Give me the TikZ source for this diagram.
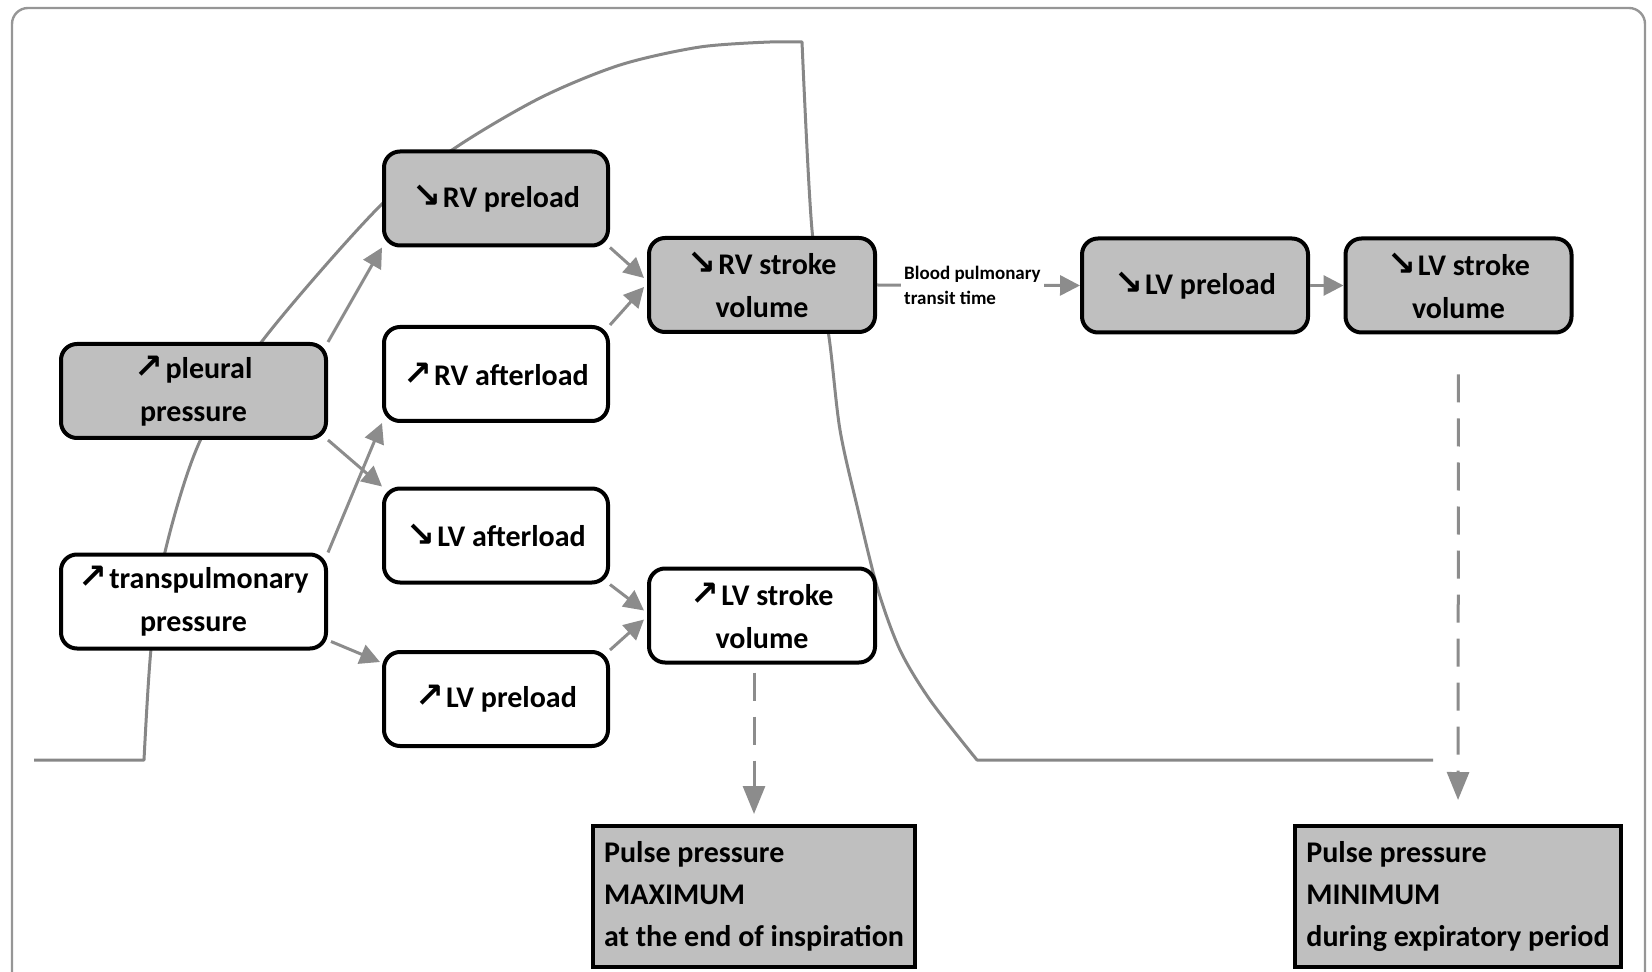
\documentclass[tikz,border=0pt]{standalone}
\usepackage{fontspec}
\setmainfont{Carlito}
\newfontfamily\arrowf{DejaVu Sans}[Scale=1.15]
\usetikzlibrary{arrows.meta,calc}
\definecolor{boxgray}{RGB}{191,191,191}
\definecolor{arrgray}{RGB}{140,140,140}
\definecolor{curvegray}{RGB}{135,135,135}
\definecolor{framegray}{RGB}{150,150,150}
\newcommand\ArUp{{\arrowf ↗}\kern1pt}
\newcommand\ArDn{{\arrowf ↘}\kern1pt}
\begin{document}
\begin{tikzpicture}[x=0.5pt,y=-0.5pt,
  box/.style={draw=black, line width=2pt, rounded corners=8pt, align=center,
    minimum width=113pt, minimum height=47pt, inner sep=2pt,
    font=\fontsize{15}{21.5}\selectfont\bfseries},
  pbox/.style={draw=black, line width=2pt, fill=boxgray, align=left,
    minimum width=161pt, minimum height=70.5pt, inner sep=2pt,
    font=\fontsize{15}{21}\selectfont\bfseries},
  arr/.style={draw=arrgray, line width=1.5pt, -{Triangle[length=10pt,width=10pt]}},
  darr/.style={draw=arrgray, line width=1.5pt, dash pattern=on 14pt off 8pt,
    -{Triangle[length=14pt,width=11pt]}},
  wave/.style={draw=curvegray, line width=1.5pt, line join=round},
  lbl/.style={fill=white, inner sep=1.5pt, align=left,
    font=\fontsize{9.5}{12.5}\selectfont\bfseries}
]
\useasboundingbox (0,0) rectangle (1652,972);
\clip (0,0) rectangle (1652,972);

% outer frame
\draw[framegray, line width=1.2pt, rounded corners=8pt] (12,8) rectangle (1645,1010);

% respiratory pressure wave (background)
\draw[wave] (34,760) -- (144,760)
  -- plot[smooth] coordinates {(144,760) (151,649) (165,552) (200,441) (263,340)
      (379,207) (455,148) (540,98) (620,65) (700,47) (770,42)}
  -- (802,42)
  -- plot[smooth] coordinates {(802,42) (812,230) (829,337) (840,430) (858,510)
      (878,590) (900,650) (930,700) (977,760)}
  -- (1433,760);

% nodes
\node[box, fill=boxgray, minimum width=132.5pt] (pleural) at (193.5,391) {\ArUp pleural\\pressure};
\node[box, fill=white, minimum width=132.5pt] (transp) at (193.5,601.5) {\ArUp transpulmonary\\pressure};
\node[box, fill=boxgray, minimum width=112pt] (rvpre) at (496,198.5) {\ArDn RV preload};
\node[box, fill=white, minimum width=112pt] (rvaft) at (496,374) {\ArUp RV afterload};
\node[box, fill=white, minimum width=112pt] (lvaft) at (496,535.5) {\ArDn LV afterload};
\node[box, fill=white, minimum width=112pt] (lvpre) at (496,699) {\ArUp LV preload};
\node[box, fill=boxgray] (rvsv) at (762,285) {\ArDn RV stroke\\volume};
\node[box, fill=white] (lvsv) at (762,615.5) {\ArUp LV stroke\\volume};
\node[box, fill=boxgray] (lvp2) at (1195,285.5) {\ArDn LV preload};
\node[box, fill=boxgray] (lvsv2) at (1458.5,285.5) {\ArDn LV stroke\\volume};
\node[pbox] (pmax) at (754,896.5) {Pulse pressure\\MAXIMUM\\at the end of inspiration};
\node[pbox, minimum width=163pt] (pmin) at (1458,896.5) {Pulse pressure\\MINIMUM\\during expiratory period};

% connectors
\draw[arr] (pleural.north east) -- (rvpre.south west);
\draw[arr] (pleural.south east) -- (lvaft.north west);
\draw[arr] (transp.north east) -- (rvaft.south west);
\draw[arr] ($(transp.south east)+(3,-9)$) -- ($(lvpre.north west)+(-2,12)$);
\draw[arr] (rvpre.south east) -- ($(rvsv.west)+(-3,-7)$);
\draw[arr] (rvaft.north east) -- ($(rvsv.west)+(-3,2)$);
\draw[arr] (lvaft.south east) -- ($(lvsv.west)+(-3,-5)$);
\draw[arr] (lvpre.north east) -- ($(lvsv.west)+(-3,4)$);
\draw[arr] (rvsv.east) -- node[lbl, pos=0.47] (transit) {Blood pulmonary\\transit time} (lvp2.west);
\draw[arr] (lvp2.east) -- (lvsv2.west);
\draw[darr, shorten <=20pt, shorten >=12pt] (lvsv2.south) -- (pmin.north);
\draw[darr, shorten <=4pt, shorten >=5pt] (lvsv.south -| pmax.north) -- (pmax.north);
\end{tikzpicture}
\end{document}
